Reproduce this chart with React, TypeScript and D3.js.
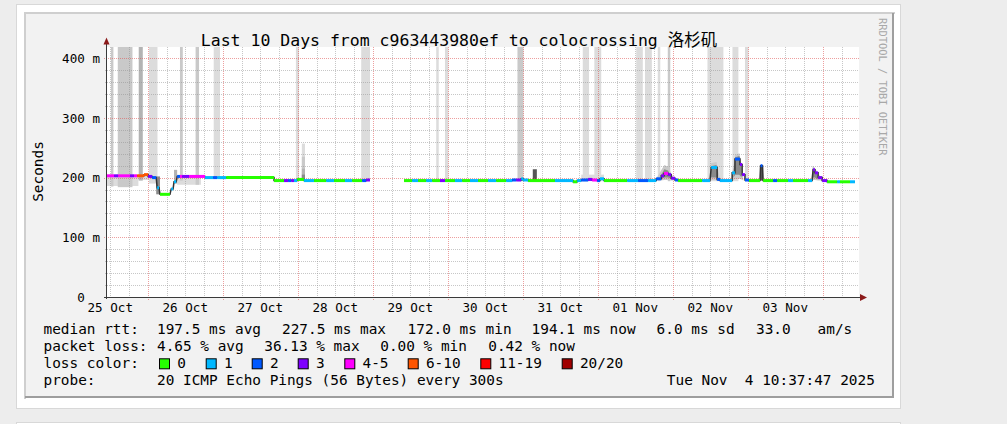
import React from 'react';
import * as d3 from 'd3';

// time unit: hours since 25 Oct 2025 00:00
const START_HOUR = 10.63; // Sat Oct 25 10:37:47
const END_HOUR = 250.63; // Tue Nov 4 10:37:47
const Y_MAX = 418.8; // ms at top of canvas

const TITLE = 'Last 10 Days from c963443980ef to colocrossing 洛杉矶';
const DAY_LABELS = ['25 Oct', '26 Oct', '27 Oct', '28 Oct', '29 Oct', '30 Oct', '31 Oct', '01 Nov', '02 Nov', '03 Nov'];
const Y_TICKS = [0, 100, 200, 300, 400];
const Y_TICK_LABELS = ['0', '100 m', '200 m', '300 m', '400 m'];
const Y_UNIT_LABEL = 'Seconds';
const WATERMARK = 'RRDTOOL / TOBI OETIKER';

const LOSS_BINS = [0, 1, 2, 3, 5, 10, 19, 20];
const LOSS_LABELS = ['0', '1', '2', '3', '4-5', '6-10', '11-19', '20/20'];
const LOSS_COLORS = ['#26ff00', '#00b8ff', '#0059ff', '#7e00ff', '#ff00ff', '#ff5500', '#ff0000', '#a10000'];

const RTT_STATS = ['197.5 ms avg', '227.5 ms max', '172.0 ms min', '194.1 ms now', '6.0 ms sd', '33.0', 'am/s'];
const LOSS_STATS = ['4.65 % avg', '36.13 % max', '0.00 % min', '0.42 % now'];
const PROBE_TEXT = '20 ICMP Echo Pings (56 Bytes) every 300s';
const STAMP = 'Tue Nov  4 10:37:47 2025';

// median rtt runs: [start hour, end hour, median ms, lost pings]
const medianRuns: [number, number, number, number][] = [
  [10.7, 13.2, 203, 5], [13.2, 14.5, 203, 3], [14.5, 18.3, 203, 4], [18.3, 19.6, 203, 3],
  [19.6, 20.6, 203, 5], [20.6, 22.8, 203, 8], [22.8, 24.1, 205, 7], [24.1, 25.4, 202, 3],
  [25.4, 26.7, 200, 2], [27.0, 27.6, 183, 1], [27.9, 31.1, 172, 0], [31.5, 32.1, 181, 1],
  [32.4, 33.1, 193, 1], [33.4, 34.3, 202, 2], [34.3, 35.0, 202, 4], [35.0, 37.2, 202, 3],
  [37.2, 42.3, 202, 4], [42.3, 44.9, 200, 1], [44.9, 46.2, 200, 2], [46.2, 49.1, 200, 1],
  [49.1, 64.4, 200, 0], [64.4, 67.6, 195, 0], [67.6, 68.9, 195, 3], [68.9, 69.9, 195, 2],
  [69.9, 70.8, 195, 3], [70.8, 71.8, 195, 1], [71.8, 74.0, 197, 0], [74.0, 77.2, 195, 1],
  [77.2, 81.1, 195, 0], [81.1, 83.6, 195, 1], [83.6, 87.1, 195, 0], [87.1, 89.4, 195, 1],
  [89.4, 92.6, 195, 0], [92.6, 93.9, 195, 2], [93.9, 95.1, 196, 3],
  [106.0, 108.6, 195, 0], [108.6, 110.5, 195, 1], [110.5, 113.1, 195, 0], [113.1, 115.0, 195, 1],
  [115.0, 117.5, 195, 0], [117.5, 119.1, 195, 3], [119.1, 122.3, 195, 0], [122.3, 124.6, 195, 1],
  [124.6, 127.1, 195, 0], [127.1, 129.7, 195, 1], [129.7, 132.9, 195, 0], [132.9, 135.5, 195, 1],
  [135.5, 138.7, 195, 0], [138.7, 140.6, 195, 1], [140.6, 141.9, 196, 2], [141.9, 143.5, 196, 3],
  [143.5, 144.1, 198, 1], [144.1, 145.7, 196, 1], [145.7, 154.3, 195, 0], [154.3, 160.1, 195, 1],
  [160.1, 161.4, 193, 0], [161.4, 162.7, 195, 1], [162.7, 164.9, 196, 2], [164.9, 166.2, 197, 3],
  [166.2, 167.8, 196, 5], [167.8, 168.7, 195, 2], [168.7, 170.0, 198, 1], [170.0, 177.4, 195, 0],
  [177.4, 180.9, 195, 1], [180.9, 184.1, 195, 2], [184.1, 186.7, 195, 1], [186.7, 188.3, 198, 2],
  [188.3, 189.2, 203, 3], [189.2, 190.5, 207, 5], [190.5, 191.5, 205, 3], [191.5, 192.7, 199, 3],
  [192.7, 193.7, 196, 2], [193.7, 201.4, 195, 0], [201.4, 203.9, 195, 1], [204.3, 206.2, 217, 1],
  [206.2, 207.1, 197, 2], [207.1, 211.0, 195, 1], [211.0, 211.9, 208, 1], [211.9, 213.5, 231, 2],
  [213.5, 214.2, 222, 3], [214.2, 215.1, 205, 3], [215.1, 216.4, 196, 2], [216.4, 219.9, 195, 0],
  [220.1, 220.7, 220, 2], [220.9, 224.1, 195, 0], [224.1, 225.4, 195, 2], [225.4, 228.9, 195, 0],
  [228.9, 230.5, 195, 1], [230.5, 235.3, 195, 0], [235.3, 236.6, 195, 1], [236.9, 237.5, 213, 3],
  [237.5, 238.5, 208, 3], [238.5, 239.8, 200, 3], [239.8, 241.4, 195, 3], [241.4, 244.6, 193, 0],
  [244.6, 245.5, 193, 1], [245.5, 248.7, 193, 0], [248.7, 250.3, 193, 1],
];

// smoke blocks: [start hour, end hour, low ms, high ms, density 1..5]
const smokeBands: [number, number, number, number, number][] = [
  [10.7, 21.0, 186, 205, 1], [21.0, 24.1, 196, 206, 1], [33.4, 41.0, 188, 204, 1],
  [12.2, 13.0, 185, 430, 2], [14.4, 19.1, 184, 430, 2], [21.1, 22.4, 195, 430, 3],
  [24.4, 27.1, 190, 430, 1], [34.3, 35.2, 195, 430, 2], [39.3, 40.4, 188, 430, 2],
  [45.1, 47.1, 198, 430, 1], [26.7, 27.9, 172, 202, 4], [32.4, 33.4, 190, 213, 3],
  [71.4, 72.4, 194, 430, 1], [73.3, 74.3, 196, 257, 1], [73.3, 74.3, 196, 235, 2],
  [73.3, 74.3, 196, 215, 3], [73.3, 74.3, 196, 205, 4], [92.3, 95.1, 194, 430, 1],
  [116.3, 117.1, 194, 430, 1], [119.1, 120.2, 194, 430, 1], [142.3, 144.2, 194, 430, 2],
  [147.2, 148.5, 196, 214, 5], [162.7, 170.0, 194, 205, 1], [163.2, 165.2, 194, 430, 1],
  [166.9, 169.1, 194, 430, 1], [180.3, 182.4, 194, 430, 1], [183.1, 185.3, 194, 430, 1],
  [187.2, 188.0, 194, 430, 1], [190.4, 191.2, 194, 430, 2], [203.1, 208.2, 194, 430, 1],
  [211.1, 213.0, 194, 430, 1], [215.1, 216.2, 194, 430, 1], [219.9, 220.9, 195, 220, 5],
];

// smoke around latency bumps: [density, [hour, low ms, high ms][]]
const smokeProfiles: [number, [number, number, number][]][] = [
  [2, [[186.5, 195, 196], [188.0, 195, 210], [189.3, 196, 221], [190.5, 196, 218], [191.6, 195, 206], [192.8, 195, 196]]],
  [4, [[188.3, 198, 205], [189.3, 200, 214], [190.5, 200, 212], [191.3, 198, 203]]],
  [2, [[203.8, 195, 196], [204.2, 196, 224], [206.0, 196, 226], [206.6, 196, 210], [207.2, 195, 196]]],
  [4, [[204.2, 200, 219], [206.0, 200, 221], [206.4, 198, 205]]],
  [2, [[210.8, 195, 196], [211.3, 196, 215], [212.0, 198, 238], [213.3, 198, 241], [214.0, 197, 222], [214.6, 195, 196]]],
  [4, [[211.4, 200, 210], [212.0, 205, 234], [213.3, 205, 236], [214.0, 200, 216]]],
  [2, [[236.3, 195, 196], [236.8, 196, 220], [237.5, 196, 216], [238.5, 195, 207], [239.8, 195, 198]]],
  [4, [[236.8, 200, 216], [237.5, 200, 212], [238.3, 197, 204]]],
];

const SMOKE_SHADES = ['#dcdcdc', '#c9c9c9', '#b3b3b3', '#8a8a8a', '#555555'];
const MONO = "'DejaVu Sans Mono', 'Noto Sans CJK SC', monospace";

function lossColor(loss: number) {
  const i = LOSS_BINS.findIndex((b) => loss <= b);
  return LOSS_COLORS[i < 0 ? LOSS_COLORS.length - 1 : i];
}

export default function App() {
  const x = d3.scaleLinear().domain([START_HOUR, END_HOUR]).range([106, 856]);
  const y = d3.scaleLinear().domain([0, Y_MAX]).range([297, 47]);
  const canvasL = 106, canvasR = 859, canvasT = 47, canvasB = 297;

  const hGrid = d3.range(0, Y_MAX, 20);
  const vGrid = d3.range(Math.ceil(START_HOUR / 6) * 6, 255, 6).filter((h) => x(h) <= canvasR);

  const pts: ([number, number] | null)[] = [];
  medianRuns.forEach((r, i) => {
    if (i > 0 && r[0] - medianRuns[i - 1][1] > 2) pts.push(null);
    pts.push([r[0], r[2]]);
    pts.push([r[1], r[2]]);
  });
  const line = d3
    .line<[number, number] | null>()
    .defined((d) => d !== null)
    .x((d) => x((d as [number, number])[0]))
    .y((d) => y((d as [number, number])[1]));

  const area = d3
    .area<[number, number, number]>()
    .x((d) => x(d[0]))
    .y0((d) => y(d[1]))
    .y1((d) => y(d[2]));

  const legendY = [334.3, 351.3, 368.3, 385.3];
  const rttX = [157, 282, 407.6, 531.6, 656.6, 756, 817.6];
  const lossX = [157, 264.3, 380.3, 488.3];
  const boxX = [159, 205.7, 251.7, 297.7, 344.3, 407.7, 480.3, 561.7];

  return (
    <svg width={1007} height={424} style={{ position: 'absolute', left: 0, top: 0, display: 'block' }}
      fontFamily={MONO}>
      <rect x={0} y={0} width={1007} height={424} fill="#ededed" />
      <rect x={16.5} y={4.5} width={884} height={404} fill="#ffffff" stroke="#d8d8d8" />
      <rect x={16.5} y={422.5} width={884} height={10} fill="#ffffff" stroke="#d8d8d8" />

      <rect x={24} y={12} width={870} height={386} fill="#f2f2f2" />
      <path d="M24,398 V12 H894" fill="none" stroke="#cfcfcf" strokeWidth={2} transform="translate(1,1)" />
      <path d="M25,397 H893 V13" fill="none" stroke="#9e9e9e" strokeWidth={2} />

      <rect x={canvasL} y={canvasT} width={canvasR - canvasL} height={canvasB - canvasT} fill="#ffffff" />

      <g>
        {smokeBands.map((s, i) => {
          const top = Math.max(y(s[3]), canvasT);
          return (
            <rect key={i} x={x(s[0])} width={x(s[1]) - x(s[0])} y={top} height={y(s[2]) - top}
              fill={SMOKE_SHADES[s[4] - 1]} />
          );
        })}
        {smokeProfiles.map((p, i) => (
          <path key={'p' + i} d={area(p[1]) || ''} fill={SMOKE_SHADES[p[0] - 1]} />
        ))}
      </g>

      <g strokeDasharray="1,1" shapeRendering="crispEdges">
        {hGrid.map((v) => (
          <line key={'h' + v} x1={v % 100 === 0 ? canvasL - 2 : canvasL - 1} x2={canvasR}
            y1={Math.round(y(v)) + 0.5} y2={Math.round(y(v)) + 0.5}
            stroke={v % 100 === 0 ? 'rgba(222,80,80,0.55)' : 'rgba(143,143,143,0.5)'} />
        ))}
        {vGrid.map((h) => (
          <line key={'v' + h} y1={canvasT} y2={h % 24 === 0 ? canvasB + 3 : canvasB + 2}
            x1={Math.round(x(h)) + 0.5} x2={Math.round(x(h)) + 0.5}
            stroke={h % 24 === 0 ? 'rgba(222,80,80,0.55)' : 'rgba(143,143,143,0.5)'} />
        ))}
      </g>

      <path d={line(pts) || ''} fill="none" stroke="#333333" strokeWidth={1.5} />
      <g strokeWidth={3} strokeLinecap="butt">
        {medianRuns.map((r, i) => (
          <line key={i} x1={x(r[0])} x2={x(r[1])} y1={y(r[2])} y2={y(r[2])} stroke={lossColor(r[3])} />
        ))}
      </g>

      <g shapeRendering="crispEdges" stroke="#3a3a3a">
        <line x1={106.5} x2={106.5} y1={41} y2={299} />
        <line x1={104} x2={862} y1={297.5} y2={297.5} />
      </g>
      <path d="M103.5,44.5 L106.5,37.5 L109.5,44.5 Z" fill="#8b1a1a" />
      <path d="M860,294 L867,297.5 L860,301 Z" fill="#8b1a1a" />

      <text x={459} y={45.7} textAnchor="middle" fontSize={16.5} fill="#000">{TITLE}</text>

      <g fontSize={12.6} fill="#000" textAnchor="end">
        {Y_TICKS.map((v, i) => (
          <text key={v} x={v === 0 ? 84.8 : 100} y={y(v) + 4.6}>{Y_TICK_LABELS[i]}</text>
        ))}
      </g>
      <g fontSize={12.6} fill="#000" textAnchor="middle">
        {DAY_LABELS.map((d, i) => (
          <text key={d} x={x(i * 24 + 12)} y={312.3}>{d}</text>
        ))}
      </g>

      <text transform="translate(42.5,171.5) rotate(-90)" textAnchor="middle" fontSize={14.4} fill="#000">
        {Y_UNIT_LABEL}
      </text>
      <text transform="translate(878.5,18) rotate(90)" fontSize={10.4} fill="#a8a8a8">{WATERMARK}</text>

      <g fontSize={14.4} fill="#000">
        <text x={43.5} y={legendY[0]}>median rtt:</text>
        {RTT_STATS.map((s, i) => (
          <text key={s} x={rttX[i]} y={legendY[0]}>{s}</text>
        ))}
        <text x={43.5} y={legendY[1]}>packet loss:</text>
        {LOSS_STATS.map((s, i) => (
          <text key={s} x={lossX[i]} y={legendY[1]}>{s}</text>
        ))}
        <text x={43.5} y={legendY[2]}>loss color:</text>
        {LOSS_LABELS.map((l, i) => (
          <g key={l}>
            <rect x={boxX[i] + 0.5} y={358.8} width={10} height={10} fill={LOSS_COLORS[i]} stroke="#000" />
            <text x={boxX[i] + 18.2} y={legendY[2]}>{l}</text>
          </g>
        ))}
        <text x={43.5} y={legendY[3]}>probe:</text>
        <text x={157} y={legendY[3]}>{PROBE_TEXT}</text>
        <text x={874.8} y={legendY[3]} textAnchor="end" xmlSpace="preserve" style={{ whiteSpace: 'pre' }}>{STAMP}</text>
      </g>
    </svg>
  );
}
